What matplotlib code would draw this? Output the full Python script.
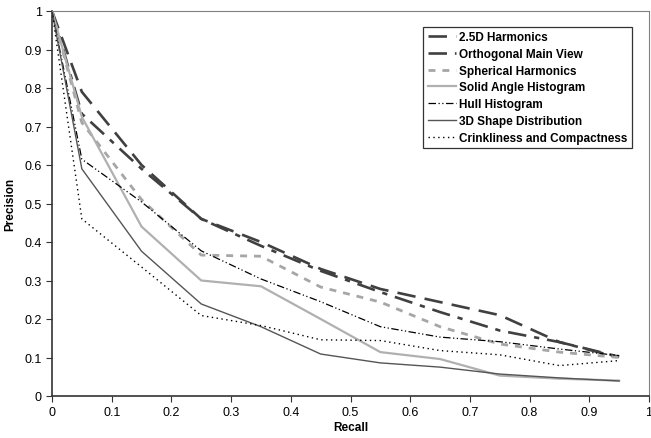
import matplotlib.pyplot as plt

plt.rcParams["font.family"] = ["Liberation Sans", "DejaVu Sans"]

recall = [0, 0.05, 0.15, 0.25, 0.35, 0.45, 0.55, 0.65, 0.75, 0.85, 0.95]

harm25d = [1, 0.79, 0.60, 0.46, 0.40, 0.33, 0.278, 0.244, 0.21, 0.14, 0.102]
ortho = [1, 0.733, 0.59, 0.46, 0.39, 0.325, 0.27, 0.218, 0.17, 0.14, 0.10]
spherical = [1, 0.71, 0.51, 0.366, 0.363, 0.283, 0.244, 0.18, 0.135, 0.114, 0.10]
solid_angle = [1, 0.725, 0.44, 0.30, 0.285, 0.20, 0.114, 0.096, 0.053, 0.045, 0.04]
hull = [1, 0.615, 0.504, 0.377, 0.304, 0.245, 0.18, 0.153, 0.141, 0.122, 0.105]
shape3d = [1, 0.59, 0.376, 0.239, 0.18, 0.109, 0.086, 0.075, 0.057, 0.047, 0.039]
crinkle = [1, 0.46, 0.335, 0.209, 0.183, 0.146, 0.144, 0.118, 0.107, 0.079, 0.092]

fig = plt.figure(figsize=(6.51, 4.39), dpi=100)
ax = fig.add_axes([52 / 651, 1 - 397 / 439, 597 / 651, 385 / 439])

ax.plot(recall, harm25d, color="#404040", lw=1.9, dashes=(7, 3.5), label="2.5D Harmonics")
ax.plot(recall, ortho, color="#404040", lw=1.9, dashes=(7, 3, 2, 3), label="Orthogonal Main View")
ax.plot(recall, spherical, color="#a6a6a6", lw=2, dashes=(2.5, 2.5), label="Spherical Harmonics")
ax.plot(recall, solid_angle, color="#b0b0b0", lw=1.6, label="Solid Angle Histogram")
ax.plot(recall, hull, color="black", lw=0.9, dashes=(6, 2, 1, 2, 1, 2), label="Hull Histogram")
ax.plot(recall, shape3d, color="#555555", lw=1, label="3D Shape Distribution")
ax.plot(recall, crinkle, color="black", lw=1, dashes=(1, 2.5), label="Crinkliness and Compactness")

ax.set_xlim(0, 1)
ax.set_ylim(0, 1)
ax.set_xticks([i / 10 for i in range(11)])
ax.set_yticks([i / 10 for i in range(11)])
ax.set_xticklabels(["0", "0.1", "0.2", "0.3", "0.4", "0.5", "0.6", "0.7", "0.8", "0.9", "1"])
ax.set_yticklabels(["0", "0.1", "0.2", "0.3", "0.4", "0.5", "0.6", "0.7", "0.8", "0.9", "1"])
ax.tick_params(direction="out", length=4, labelsize=9, color="#333333")

for side in ["top", "right"]:
    ax.spines[side].set_color("#808080")
for side in ["left", "bottom"]:
    ax.spines[side].set_color("#333333")
    ax.spines[side].set_linewidth(1.2)

ax.set_xlabel("Recall", fontsize=8.5, fontweight="bold", labelpad=2)
ax.set_ylabel("Precision", fontsize=8.5, fontweight="bold", labelpad=6)

leg = ax.legend(loc="upper right", bbox_to_anchor=(0.9715, 0.958), prop={"size": 8.5, "weight": "bold"},
                frameon=True, fancybox=False, edgecolor="black", handlelength=2.4,
                handletextpad=0.3, labelspacing=0.4, borderpad=0.35, borderaxespad=0)
leg.get_frame().set_linewidth(0.9)

fig.savefig("out.png", dpi=100)
